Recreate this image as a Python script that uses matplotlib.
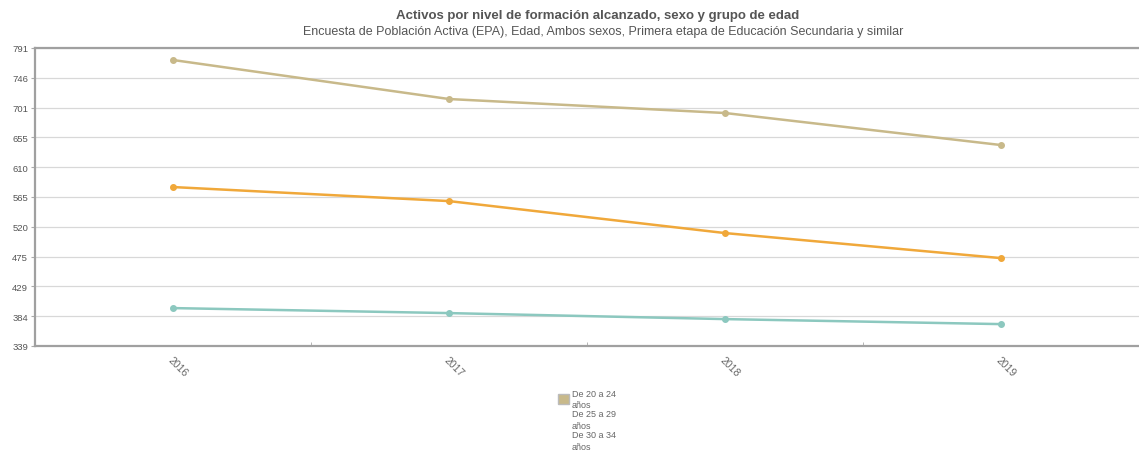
import numpy as np
import matplotlib.pyplot as plt
from matplotlib.patches import Patch

plt.rcParams['font.family'] = ['Liberation Sans', 'DejaVu Sans']

# Datos (miles de personas)
years = ["2016", "2017", "2018", "2019"]
series_names = ["De 20 a 24\naños", "De 25 a 29\naños", "De 30 a 34\naños"]
de_20_24 = [772.8, 713.6, 692.4, 643.8]
de_25_29 = [580.1, 558.8, 510.3, 472.3]
de_30_34 = [396.5, 388.9, 379.8, 372.2]
colors = ["#c8b98a", "#f0a83a", "#8cc8bf"]

y_min, y_max = 339, 791

fig = plt.figure(figsize=(11.39, 4.56), dpi=100)
ax = fig.add_axes([35 / 1139, 1 - 347 / 456, 1 - 35 / 1139, (347 - 49) / 456])

x = np.arange(len(years))
for vals, c in zip([de_20_24, de_25_29, de_30_34], colors):
    ax.plot(x, vals, color=c, lw=1.8, marker="o", ms=4, zorder=3)

ax.set_xlim(-0.5, len(years) - 0.5)
ax.set_ylim(y_min, y_max)

yt = np.linspace(y_min, y_max, 11)
ax.set_yticks(yt)
ax.set_yticklabels([f"{v:.0f}" for v in yt], fontsize=6.8, color="#555555")
ax.grid(axis="y", color="#d8d8d8", lw=0.9)
ax.set_axisbelow(True)

ax.set_xticks(x)
ax.set_xticklabels(years, rotation=-45, ha="left", va="top", rotation_mode="anchor",
                   fontsize=7.5, color="#666666")
ax.set_xticks(x[:-1] + 0.5, minor=True)
ax.tick_params(axis="x", which="major", length=0, pad=6)
ax.tick_params(axis="x", which="minor", length=3, color="#aaaaaa", direction="in")
ax.tick_params(axis="y", length=3, color="#aaaaaa", pad=2)

for side in ["top", "bottom", "left"]:
    ax.spines[side].set_color("#a0a0a0")
    ax.spines[side].set_linewidth(1.6)
ax.spines["right"].set_visible(False)

fig.text(0.525, 1 - 16 / 456, "Activos por nivel de formación alcanzado, sexo y grupo de edad",
         ha="center", va="center", fontsize=9.5, fontweight="bold", color="#555555")
fig.text(0.53, 1 - 32 / 456,
         "Encuesta de Población Activa (EPA), Edad, Ambos sexos, Primera etapa de Educación Secundaria y similar",
         ha="center", va="center", fontsize=9, color="#555555")

# leyenda: solo la primera serie lleva cuadro de color
handles = [Patch(facecolor=colors[0], edgecolor="#bbbbbb"),
           Patch(facecolor="none", edgecolor="none"),
           Patch(facecolor="none", edgecolor="none")]
leg = fig.legend(handles, series_names, loc="upper left",
                 bbox_to_anchor=(553 / 1139, 1 - 385 / 456), frameon=False,
                 fontsize=6.5, handlelength=1.3, handleheight=1.3, handletextpad=0.3,
                 labelspacing=0.05, borderpad=0)
for t in leg.get_texts():
    t.set_color("#666666")
    t.set_linespacing(1.35)

fig.savefig("out.png", dpi=100)
